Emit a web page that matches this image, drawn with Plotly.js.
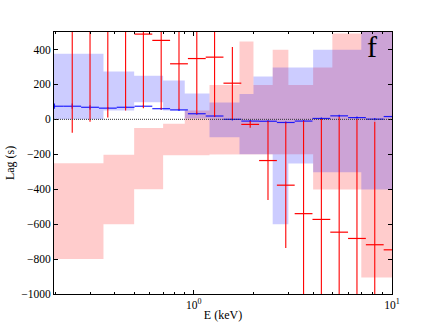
<!DOCTYPE html>
<html>
<head>
<meta charset="utf-8">
<script src="https://cdn.plot.ly/plotly-3.0.1.min.js"></script>
<style>html,body{margin:0;padding:0;background:#fff;}#chart{width:436px;height:327px;}</style>
</head>
<body>
<div id="chart"></div>
<script>
// ---- data ----
// energy bin edges (keV) of the lag-energy points
var binEdges = [0.1785, 0.2196, 0.2700, 0.3320, 0.4082, 0.5019, 0.6172, 0.7589, 0.9335, 1.148, 1.411,
                1.736, 2.135, 2.625, 3.228, 3.969, 4.881, 6.002, 7.381, 9.077, 11.16];
// blue points (lag, s) and their errors
var blueLag = [75, 75, 69, 64, 69, 75, 61, 54, 32, 19, 0, -10, -11, -18, -10, 5, 20, 10, 1, 16];
var blueErr = [15, 15, 12, 6, 6, 6, 6, 6, 6, 6, 6, 6, 6, 6, 6, 6, 6, 6, 6, 6];
// red points (lag, s) and their errors
var redLag = [null, 560, 540, 520, 510, 488, 452, 318, 348, 356, 207, -29, -236, -377, -540, -573, -646, -682, -718, -747];
var redErr = [null, 637, 554, 510, 460, 425, 395, 261, 318, 341, 207, 19, 226, 360, 532, 575, 661, 684, 704, 740];
// shaded bands (step ranges)
var bandEdges = [0.15, 0.35, 0.5, 0.7, 0.9, 1.2, 1.7, 2.0, 2.5, 3.0, 4.0, 5.0, 7.0, 10.0];
var blueLo = [0, 50, 98, 50, 5, -103, -200, -200, -600, -253, -303, -303, -402];
var blueHi = [375, 274, 249, 222, 148, 97, 145, 245, 297, 297, 398, 398, 600];
var pinkLo = [-800, -600, -400, -205, -205, -201, -200, -200, -200, -200, -402, -402, -905];
var pinkHi = [-252, -203, -50, -25, 50, 197, 446, 197, 398, 197, 297, 492, 600];
var tickVals = [1, 10];
var tickText = ['10<sup>0</sup>', '10<sup>1</sup>'];
var minorVals = [0.2, 0.3, 0.4, 0.5, 0.6, 0.7, 0.8, 0.9, 2, 3, 4, 5, 6, 7, 8, 9];

// ---- helpers ----
function bandPolygon(edges, lo, hi) {
  var xs = [], ys = [];
  for (var i = 0; i < hi.length; i++) { xs.push(edges[i], edges[i + 1]); ys.push(hi[i], hi[i]); }
  for (var j = lo.length - 1; j >= 0; j--) { xs.push(edges[j + 1], edges[j]); ys.push(lo[j], lo[j]); }
  return {x: xs, y: ys};
}
var centers = [], exPlus = [], exMinus = [];
for (var i = 0; i < binEdges.length - 1; i++) {
  var c = Math.sqrt(binEdges[i] * binEdges[i + 1]);
  centers.push(c);
  exPlus.push(binEdges[i + 1] - c);
  exMinus.push(c - binEdges[i]);
}
var pinkPoly = bandPolygon(bandEdges, pinkLo, pinkHi);
var bluePoly = bandPolygon(bandEdges, blueLo, blueHi);

var traces = [
  {x: pinkPoly.x, y: pinkPoly.y, type: 'scatter', mode: 'lines', fill: 'toself',
   fillcolor: 'rgba(255,0,0,0.2)', line: {width: 0, color: 'rgba(0,0,0,0)'}, hoverinfo: 'skip'},
  {x: bluePoly.x, y: bluePoly.y, type: 'scatter', mode: 'lines', fill: 'toself',
   fillcolor: 'rgba(0,0,255,0.2)', line: {width: 0, color: 'rgba(0,0,0,0)'}, hoverinfo: 'skip'},
  {x: centers, y: blueLag, type: 'scatter', mode: 'markers', marker: {size: 0.1, color: 'blue'},
   error_x: {type: 'data', symmetric: false, array: exPlus, arrayminus: exMinus, color: 'rgba(0,0,255,0.85)', thickness: 1.2, width: 0},
   error_y: {type: 'data', array: blueErr, color: 'rgba(0,0,255,0.85)', thickness: 1.2, width: 0}},
  {x: centers, y: redLag, type: 'scatter', mode: 'markers', marker: {size: 0.1, color: 'red'},
   error_x: {type: 'data', symmetric: false, array: exPlus, arrayminus: exMinus, color: 'red', thickness: 1.2, width: 0},
   error_y: {type: 'data', array: redErr, color: 'red', thickness: 1.1, width: 0}}
];

var font = 'Liberation Serif, DejaVu Serif, serif';
var layout = {
  width: 436, height: 327,
  margin: {l: 54, r: 44, t: 32, b: 33},
  paper_bgcolor: '#fff', plot_bgcolor: '#fff',
  showlegend: false,
  font: {family: font, size: 11.5, color: '#000'},
  xaxis: {
    type: 'log', range: [Math.log10(0.197), 1],
    tickmode: 'array', tickvals: tickVals, ticktext: tickText,
    ticks: 'inside', ticklen: 4, tickcolor: '#000', mirror: 'allticks',
    showline: true, linecolor: '#000', linewidth: 1, showgrid: false, zeroline: false,
    minor: {tickmode: 'array', tickvals: minorVals, ticks: 'inside', ticklen: 2, tickcolor: '#000', showgrid: false},
    tickfont: {family: font, size: 11.5},
    title: {text: 'E (keV)', font: {family: font, size: 12}, standoff: 0}
  },
  yaxis: {
    range: [-1000, 500], tick0: 0, dtick: 200,
    ticks: 'inside', ticklen: 4, tickcolor: '#000', mirror: 'allticks',
    showline: true, linecolor: '#000', linewidth: 1, showgrid: false, zeroline: false,
    tickfont: {family: font, size: 11.5}
  },
  shapes: [{type: 'line', xref: 'paper', yref: 'y', x0: 0, x1: 1, y0: 0, y1: 0,
            line: {color: '#333', width: 1, dash: '1px,1px'}, layer: 'above'}],
  annotations: [
    {text: 'f', xref: 'paper', yref: 'paper', x: 0.941, y: 0.943,
     xanchor: 'center', yanchor: 'middle', showarrow: false,
     font: {family: font, size: 30, color: '#000'}},
    {text: 'Lag (s)', xref: 'paper', yref: 'paper', x: -0.13, y: 0.5, textangle: -90,
     xanchor: 'center', yanchor: 'middle', showarrow: false,
     font: {family: font, size: 12, color: '#000'}}
  ]
};
Plotly.newPlot('chart', traces, layout, {staticPlot: true, displayModeBar: false});
</script>
</body>
</html>
